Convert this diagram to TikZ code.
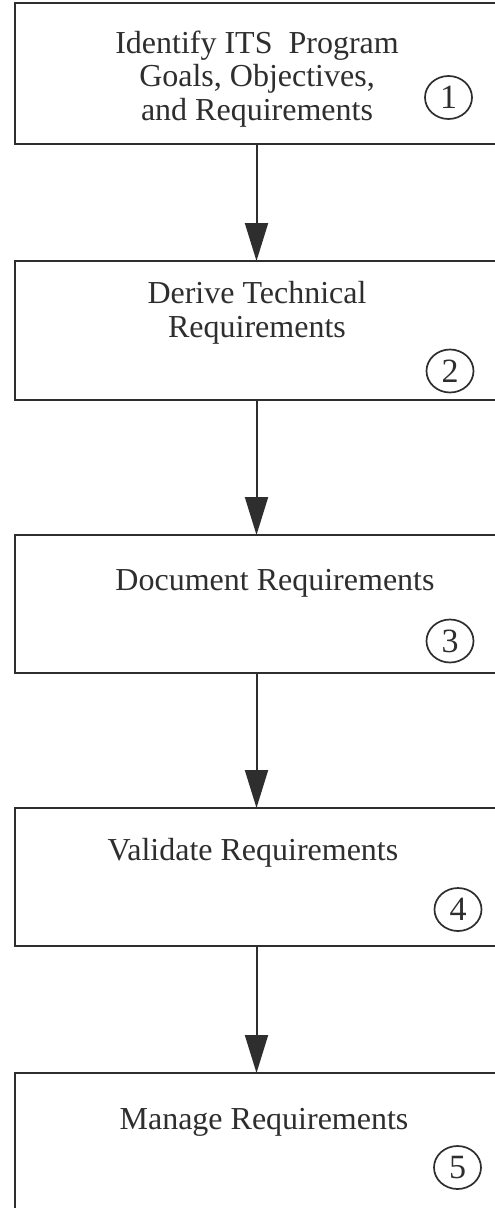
\documentclass[tikz,border=0pt]{standalone}
\usepackage{fontspec}
\setmainfont{Liberation Serif}
\usetikzlibrary{arrows.meta,shapes.geometric}
\definecolor{ink}{gray}{0.18}
\begin{document}
\begin{tikzpicture}[x=1pt,y=-1pt,
  stepbox/.style={draw=ink,line width=2pt,minimum width=483pt,inner sep=0pt,outer sep=0pt},
  steptext/.style={text=ink,align=center,font=\fontsize{32}{33.5}\selectfont,inner sep=0pt},
  stepnum/.style={draw=ink,line width=1.7pt,ellipse,minimum width=47pt,minimum height=43pt,inner sep=0pt,
                  text=ink,font=\fontsize{34}{34}\selectfont},
  flow/.style={draw=ink,line width=2pt,-{Triangle[length=38pt,width=23pt]}}]
\useasboundingbox (0,0) rectangle (495,1208);
\clip (0,0) rectangle (495,1208);
\fill[white] (0,0) rectangle (495,1208);

% process boxes
\node[stepbox,minimum height=141pt] (b1) at (256.5,73.5) {};
\node[stepbox,minimum height=139pt] (b2) at (256.5,330.5) {};
\node[stepbox,minimum height=138pt] (b3) at (256.5,604) {};
\node[stepbox,minimum height=138pt] (b4) at (256.5,877) {};
\node[stepbox,minimum height=139pt] (b5) at (256.5,1142.5) {};

% box texts
\node[steptext] (t1) at (257,79) {Identify ITS\ \ Program\\Goals, Objectives,\\and Requirements};
\node[steptext] (t2) at (257,313) {Derive Technical\\Requirements};
\node[steptext] (t3) at (275,583) {Document Requirements};
\node[steptext] (t4) at (253,853) {Validate Requirements};
\node[steptext] (t5) at (264,1122) {Manage Requirements};

% step numbers
\node[stepnum] (n1) at (448.5,97.5) {1};
\node[stepnum] (n2) at (450,371) {2};
\node[stepnum] (n3) at (450,641) {3};
\node[stepnum] (n4) at (458,909.5) {4};
\node[stepnum] (n5) at (457.5,1167.5) {5};

% flow arrows
\draw[flow] (b1.south) -- (b2.north);
\draw[flow] (b2.south) -- (b3.north);
\draw[flow] (b3.south) -- (b4.north);
\draw[flow] (b4.south) -- (b5.north);
\end{tikzpicture}
\end{document}
